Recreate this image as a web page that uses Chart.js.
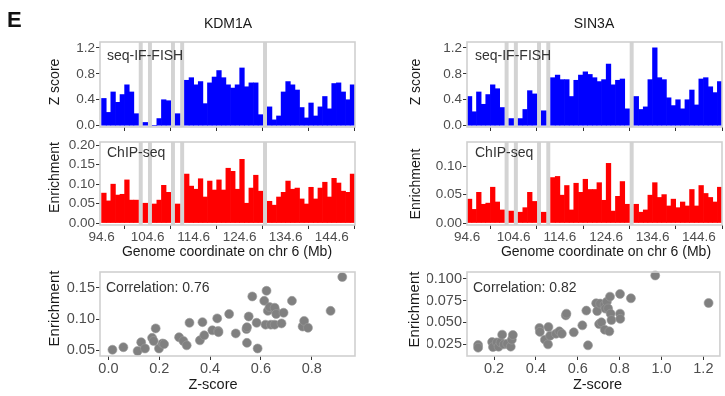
<!DOCTYPE html>
<html>
<head>
<meta charset="utf-8">
<script src="https://cdn.jsdelivr.net/npm/chart.js@4.4.1/dist/chart.umd.min.js"></script>
<style>
  html, body { margin: 0; padding: 0; background: #fff; }
  #wrap { position: relative; width: 725px; height: 396px; }
  #wrap canvas { position: absolute; left: 0; top: 0; }
</style>
</head>
<body>
<div id="wrap">
  <canvas id="kdmZ" width="725" height="396"></canvas>
  <canvas id="kdmChip" width="725" height="396"></canvas>
  <canvas id="kdmScatter" width="725" height="396"></canvas>
  <canvas id="sinZ" width="725" height="396"></canvas>
  <canvas id="sinChip" width="725" height="396"></canvas>
  <canvas id="sinScatter" width="725" height="396"></canvas>
</div>
<script>
// --- DATA ---
// 1 Mb bins on chr 6 (bin start, Mb)
const binStartMb = [
  94.6, 95.6, 96.6, 97.6, 98.6, 99.6, 100.6, 101.6, 102.6, 103.6,
  104.6, 105.6, 106.6, 107.6, 108.6, 109.6, 110.6, 111.6, 112.6, 113.6,
  114.6, 115.6, 116.6, 117.6, 118.6, 119.6, 120.6, 121.6, 122.6, 123.6,
  124.6, 125.6, 126.6, 127.6, 128.6, 129.6, 130.6, 131.6, 132.6, 133.6,
  134.6, 135.6, 136.6, 137.6, 138.6, 139.6, 140.6, 141.6, 142.6, 143.6,
  144.6, 145.6, 146.6, 147.6, 148.6
];
// bins without data (grey bands)
const gapBins = [8, 10, 15, 17, 35];
const genomeTicks = [94.6, 104.6, 114.6, 124.6, 134.6, 144.6];

const kdm1aZ = [
  0.42, 0.205, 0.52, 0.36, 0.48, 0.63, 0.52, 0.185, null, 0.05,
  null, 0, 0.11, 0.40, 0.385, null, 0.185, null, 0.70, 0.74,
  0.63, 0.68, 0.34, 0.66, 0.75, 0.85, 0.74, 0.63, 0.58, 0.63,
  0.89, 0.60, 0.66, 0.66, 0.17, null, 0.29, 0.09, 0.15, 0.52,
  0.68, 0.63, 0.55, 0.28, 0.12, 0.35, 0.15, 0.29, 0.45, 0.26,
  0.65, 0.66, 0.52, 0.40, 0.63
];
const kdm1aChip = [
  0.077, 0.057, 0.100, 0.072, 0.074, 0.111, 0.059, 0.059, null, 0.051,
  null, 0.049, 0.059, 0.097, 0.079, null, 0.049, null, 0.126, 0.095,
  0.087, 0.114, 0.067, 0.108, 0.085, 0.111, 0.085, 0.141, 0.133, 0.087,
  0.164, 0.051, 0.090, 0.123, 0.082, null, 0.056, 0.046, 0.067, 0.079,
  0.108, 0.087, 0.090, 0.062, 0.049, 0.092, 0.062, 0.090, 0.105, 0.067,
  0.115, 0.103, 0.082, 0.079, 0.126
];
const sin3aZ = [
  0.45, 0.215, 0.52, 0.33, 0.48, 0.63, 0.57, 0.28, null, 0.11,
  null, 0.11, 0.25, 0.54, 0.49, null, 0.23, null, 0.74, 0.78,
  0.71, 0.71, 0.45, 0.70, 0.78, 0.83, 0.79, 0.74, 0.68, 0.71,
  0.95, 0.63, 0.70, 0.72, 0.26, null, 0.45, 0.25, 0.29, 0.71,
  1.20, 0.74, 0.71, 0.43, 0.31, 0.40, 0.26, 0.40, 0.55, 0.32,
  0.72, 0.74, 0.60, 0.51, 0.68
];
const sin3aChip = [
  0.042, 0.024, 0.054, 0.033, 0.035, 0.063, 0.037, 0.023, null, 0.021,
  null, 0.019, 0.027, 0.054, 0.038, null, 0.019, null, 0.080, 0.082,
  0.049, 0.066, 0.023, 0.070, 0.054, 0.077, 0.059, 0.059, 0.071, 0.040,
  0.105, 0.021, 0.047, 0.073, 0.033, null, 0.033, 0.019, 0.023, 0.049,
  0.071, 0.045, 0.050, 0.030, 0.042, 0.027, 0.037, 0.030, 0.059, 0.030,
  0.066, 0.052, 0.045, 0.037, 0.063
];

// scatter: z-score vs enrichment
const kdm1aScatterZ = [
  0.016, 0.059, 0.115, 0.129, 0.144, 0.172, 0.178, 0.186, 0.199, 0.213,
  0.219, 0.278, 0.295, 0.308, 0.319, 0.360, 0.370, 0.377, 0.409, 0.428,
  0.432, 0.433, 0.475, 0.501, 0.543, 0.545, 0.545, 0.552, 0.583, 0.566,
  0.587, 0.613, 0.622, 0.618, 0.627, 0.634, 0.639, 0.654, 0.657, 0.654,
  0.660, 0.681, 0.689, 0.722, 0.764, 0.770, 0.785, 0.874, 0.920
];
const kdm1aScatterEnr = [
  0.051, 0.055, 0.049, 0.063, 0.053, 0.070, 0.065, 0.085, 0.053, 0.061,
  0.060, 0.071, 0.065, 0.058, 0.094, 0.066, 0.095, 0.074, 0.082, 0.101,
  0.081, 0.079, 0.108, 0.077, 0.084, 0.087, 0.062, 0.104, 0.094, 0.136,
  0.053, 0.129, 0.145, 0.091, 0.113, 0.119, 0.091, 0.091, 0.113, 0.118,
  0.108, 0.093, 0.110, 0.129, 0.088, 0.097, 0.086, 0.113, 0.167
];
const sin3aScatterZ = [
  0.124, 0.124, 0.191, 0.195, 0.214, 0.222, 0.231, 0.239, 0.247, 0.263,
  0.280, 0.285, 0.290, 0.417, 0.419, 0.443, 0.458, 0.460, 0.468, 0.496,
  0.512, 0.524, 0.543, 0.546, 0.581, 0.622, 0.641, 0.649, 0.688, 0.693,
  0.707, 0.702, 0.713, 0.728, 0.729, 0.732, 0.739, 0.745, 0.751, 0.754,
  0.757, 0.761, 0.802, 0.802, 0.803, 0.854, 0.970, 1.225
];
const sin3aScatterEnr = [
  0.0239, 0.0208, 0.0273, 0.0215, 0.0269, 0.0219, 0.0269, 0.0358, 0.0246, 0.0254,
  0.0220, 0.0300, 0.0354, 0.0435, 0.0390, 0.0300, 0.0246, 0.0446, 0.0346, 0.0369,
  0.0396, 0.0369, 0.0580, 0.0600, 0.0385, 0.0465, 0.0635, 0.0235, 0.0720, 0.0630,
  0.0716, 0.0480, 0.0500, 0.0700, 0.0415, 0.0658, 0.0738, 0.0660, 0.0396, 0.0796,
  0.0600, 0.0527, 0.0827, 0.0600, 0.0540, 0.0777, 0.1040, 0.0723
];
// ------------------------------------------

const FONT = "'Liberation Sans', Arial, Helvetica, sans-serif";
const LABEL_COLOR = '#4d4d4d';
const MARK_COLOR = '#333333';
const TEXT_COLOR = '#1a1a1a';
const PAGE_W = 725, PAGE_H = 396;
const Y_AXIS_W = 40, X_AXIS_H = 20;

// --- PLUGINS: panel frame and free text ---
const panelFrame = {
  id: 'panelFrame',
  afterDatasetsDraw(chart) {
    const { ctx, chartArea: a } = chart;
    ctx.save();
    ctx.strokeStyle = '#d0d0d0';
    ctx.lineWidth = 1.6;
    ctx.strokeRect(a.left, a.top, a.right - a.left, a.bottom - a.top);
    ctx.restore();
  }
};
const textLayer = {
  id: 'textLayer',
  afterDraw(chart, args, opts) {
    const ctx = chart.ctx;
    (opts.items || []).forEach(t => {
      ctx.save();
      ctx.font = t.font || `14px ${FONT}`;
      ctx.fillStyle = t.color || TEXT_COLOR;
      ctx.textAlign = t.align || 'center';
      ctx.textBaseline = t.rotate ? 'middle' : 'alphabetic';
      ctx.translate(t.x, t.y);
      if (t.rotate) ctx.rotate(-Math.PI / 2);
      ctx.fillText(t.text, 0, 0);
      ctx.restore();
    });
  }
};
Chart.register(panelFrame, textLayer);

// area = [left, top, right, bottom] of the plotting panel in page pixels
function layoutFor(area) {
  return { padding: {
    left: area[0] - Y_AXIS_W, top: area[1],
    right: PAGE_W - area[2], bottom: PAGE_H - area[3] - X_AXIS_H
  } };
}

function axis(min, max, ticks, digits, fontSize, showLabels, isX) {
  return {
    type: 'linear', min, max, offset: false,
    afterFit: s => { if (isX) s.height = X_AXIS_H; else s.width = Y_AXIS_W; },
    afterBuildTicks: s => { s.ticks = ticks.map(v => ({ value: v })); },
    grid: { drawOnChartArea: false, drawTicks: true, tickLength: 4, tickColor: MARK_COLOR, tickWidth: 1 },
    border: { display: false },
    ticks: {
      display: showLabels, autoSkip: false, maxRotation: 0, padding: isX ? 0 : 1,
      color: LABEL_COLOR, font: { family: FONT, size: fontSize },
      callback: v => Number(v).toFixed(digits)
    }
  };
}

// --- bar track panel ---
function barPanel(id, p) {
  const bars = binStartMb.map((s, i) => ({ x: s + 0.5, y: p.values[i] }));
  const gaps = gapBins.map(i => ({ x: binStartMb[i] + 0.5, y: [p.yMin, p.yMax] }));
  return new Chart(document.getElementById(id), {
    type: 'bar',
    data: {
      datasets: [
        { data: bars, backgroundColor: p.color, borderWidth: 0,
          barPercentage: 1, categoryPercentage: 1, grouped: false },
        { data: gaps, backgroundColor: '#d3d3d3', borderWidth: 0,
          barPercentage: 0.86, categoryPercentage: 1, grouped: false }
      ]
    },
    options: {
      responsive: false, animation: false, events: [],
      layout: layoutFor(p.area),
      plugins: { legend: { display: false }, tooltip: { enabled: false }, textLayer: { items: p.texts } },
      scales: {
        x: axis(p.xMin, p.xMax, genomeTicks, 1, 13.5, p.showX, true),
        y: axis(p.yMin, p.yMax, p.yTicks, p.yDigits, 13.5, true, false)
      }
    }
  });
}

// --- scatter panel ---
function scatterPanel(id, p) {
  return new Chart(document.getElementById(id), {
    type: 'scatter',
    data: {
      datasets: [{
        data: p.xs.map((x, i) => ({ x, y: p.ys[i] })),
        pointRadius: 4.5, backgroundColor: '#808080',
        borderColor: '#9a9a9a', borderWidth: 0.6, clip: false
      }]
    },
    options: {
      responsive: false, animation: false, events: [],
      layout: layoutFor(p.area),
      plugins: { legend: { display: false }, tooltip: { enabled: false }, textLayer: { items: p.texts } },
      scales: {
        x: axis(p.xMin, p.xMax, p.xTicks, 1, 14.5, true, true),
        y: axis(p.yMin, p.yMax, p.yTicks, p.yDigits, 14.5, true, false)
      }
    }
  });
}

// --- KDM1A column ---
barPanel('kdmZ', {
  values: kdm1aZ, color: '#0000ff', area: [100, 42, 355, 127],
  xMin: 94.25, xMax: 149.65, yMin: -0.02, yMax: 1.29,
  yTicks: [0, 0.4, 0.8, 1.2], yDigits: 1, showX: false,
  texts: [
    { text: 'E', x: 7, y: 27, align: 'left', font: `bold 22px ${FONT}`, color: '#111' },
    { text: 'KDM1A', x: 228, y: 28, font: `14px ${FONT}` },
    { text: 'Z score', x: 55, y: 82, rotate: true },
    { text: 'seq-IF-FISH', x: 107, y: 60, align: 'left', color: '#333' }
  ]
});
barPanel('kdmChip', {
  values: kdm1aChip, color: '#ff0000', area: [100, 142, 355, 225],
  xMin: 94.25, xMax: 149.65, yMin: -0.005, yMax: 0.2085,
  yTicks: [0, 0.05, 0.10, 0.15, 0.20], yDigits: 2, showX: true,
  texts: [
    { text: 'Enrichment', x: 55, y: 177.5, rotate: true },
    { text: 'ChIP-seq', x: 107, y: 157, align: 'left', color: '#333' },
    { text: 'Genome coordinate on chr 6 (Mb)', x: 227, y: 256 }
  ]
});
scatterPanel('kdmScatter', {
  xs: kdm1aScatterZ, ys: kdm1aScatterEnr, area: [100, 272, 355, 356],
  xMin: -0.033, xMax: 0.97, yMin: 0.041, yMax: 0.175,
  xTicks: [0, 0.2, 0.4, 0.6, 0.8], yTicks: [0.05, 0.10, 0.15], yDigits: 2,
  texts: [
    { text: 'Enrichment', x: 55, y: 308.5, rotate: true, font: `15px ${FONT}` },
    { text: 'Correlation: 0.76', x: 106, y: 292, align: 'left', color: '#333' },
    { text: 'Z-score', x: 213, y: 389, font: `14.5px ${FONT}` }
  ]
});

// --- SIN3A column ---
barPanel('sinZ', {
  values: sin3aZ, color: '#0000ff', area: [467, 42, 722, 127],
  xMin: 94.55, xMax: 149.6, yMin: -0.02, yMax: 1.29,
  yTicks: [0, 0.4, 0.8, 1.2], yDigits: 1, showX: false,
  texts: [
    { text: 'SIN3A', x: 594, y: 28, font: `14px ${FONT}` },
    { text: 'Z score', x: 416, y: 82, rotate: true },
    { text: 'seq-IF-FISH', x: 475, y: 60, align: 'left', color: '#333' }
  ]
});
barPanel('sinChip', {
  values: sin3aChip, color: '#ff0000', area: [467, 142, 722, 225],
  xMin: 94.55, xMax: 149.6, yMin: -0.0035, yMax: 0.1426,
  yTicks: [0, 0.05, 0.10], yDigits: 2, showX: true,
  texts: [
    { text: 'Enrichment', x: 416, y: 184, rotate: true },
    { text: 'ChIP-seq', x: 475, y: 157, align: 'left', color: '#333' },
    { text: 'Genome coordinate on chr 6 (Mb)', x: 606, y: 256 }
  ]
});
scatterPanel('sinScatter', {
  xs: sin3aScatterZ, ys: sin3aScatterEnr, area: [467, 272, 723, 356],
  xMin: 0.071, xMax: 1.279, yMin: 0.0112, yMax: 0.108,
  xTicks: [0.2, 0.4, 0.6, 0.8, 1.0, 1.2], yTicks: [0.025, 0.050, 0.075, 0.100], yDigits: 3,
  texts: [
    { text: 'Enrichment', x: 415, y: 309.5, rotate: true, font: `15px ${FONT}` },
    { text: 'Correlation: 0.82', x: 473, y: 292, align: 'left', color: '#333' },
    { text: 'Z-score', x: 597.5, y: 389, font: `14.5px ${FONT}` }
  ]
});
</script>
</body>
</html>
